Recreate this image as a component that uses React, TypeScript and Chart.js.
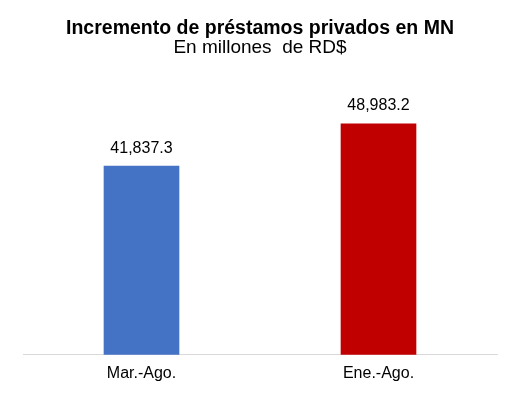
import React, { useEffect, useRef } from "react";
import { Chart, registerables } from "chart.js";

Chart.register(...registerables);

const categories = ["Mar.-Ago.", "Ene.-Ago."];
const values = [41837.3, 48983.2];
const barColors = ["#4472C4", "#C00000"];
const titleText = "Incremento de préstamos privados en MN";
const subtitleText = "En millones  de RD$";
const FONT = "'Liberation Sans', Arial, sans-serif";

const valueLabels = {
  id: "valueLabels",
  afterDatasetsDraw(chart: any) {
    const ctx = chart.ctx;
    const meta = chart.getDatasetMeta(0);
    ctx.save();
    ctx.font = `16px ${FONT}`;
    ctx.fillStyle = "#000000";
    ctx.textAlign = "center";
    ctx.textBaseline = "middle";
    meta.data.forEach((bar: any, i: number) => {
      const v = values[i].toLocaleString("en-US", { minimumFractionDigits: 1, maximumFractionDigits: 1 });
      ctx.fillText(v, bar.x, bar.y - 18);
    });
    ctx.restore();
  },
};

export default function App() {
  const ref = useRef<HTMLCanvasElement>(null);
  useEffect(() => {
    document.body.style.margin = "0";
    const chart = new Chart(ref.current!, {
      type: "bar",
      data: {
        labels: categories,
        datasets: [
          {
            data: values,
            backgroundColor: barColors,
            barThickness: 75,
          },
        ],
      },
      options: {
        animation: false,
        responsive: false,
        layout: { padding: { left: 23, right: 23, bottom: 6, top: 0 } },
        plugins: {
          legend: { display: false },
          tooltip: { enabled: false },
          title: {
            display: true,
            text: titleText,
            color: "#000000",
            font: { family: FONT, size: 19.5, weight: "bold", lineHeight: 1 },
            padding: { top: 19, bottom: 0 },
          },
          subtitle: {
            display: true,
            text: subtitleText,
            color: "#000000",
            font: { family: FONT, size: 19, weight: "normal", lineHeight: 1 },
            padding: { top: 0, bottom: 1 },
          },
        },
        scales: {
          x: {
            grid: { display: false, drawTicks: false },
            border: { display: true, color: "#d9d9d9", width: 1 },
            ticks: { color: "#000000", font: { family: FONT, size: 16 }, padding: 9 },
          },
          y: {
            display: false,
            min: 10000,
            max: 60000,
          },
        },
      },
      plugins: [valueLabels],
    });
    return () => chart.destroy();
  }, []);
  return (
    <div style={{ width: 520, height: 398 }}>
      <canvas ref={ref} width={520} height={398} style={{ display: "block" }} />
    </div>
  );
}
